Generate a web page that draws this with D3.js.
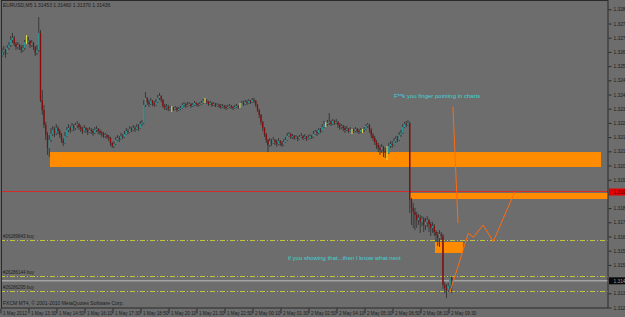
<!DOCTYPE html>
<html><head><meta charset="utf-8">
<script src="https://cdn.jsdelivr.net/npm/d3@7"></script>
<style>html,body{margin:0;padding:0;background:#6d6d6d;overflow:hidden}svg{display:block}</style>
</head><body><svg id="c" width="625" height="317"></svg>
<script>
const symbol = "EURUSD,M5";
const firstOpen = 1.32629;
const closes = [
1.32645,1.32655,1.32639,1.32666,1.32681,1.32708,1.32719,1.32687,1.32671,1.32681,
1.32671,1.32655,1.32666,1.32697,1.32697,1.32703,1.32681,1.32692,1.32671,1.32639,
1.32655,1.32745,1.32391,1.32338,1.32259,1.32206,1.32138,1.32180,1.32211,1.32233,
1.32217,1.32243,1.32227,1.32206,1.32180,1.32164,1.32201,1.32233,1.32243,1.32233,
1.32254,1.32243,1.32259,1.32264,1.32248,1.32238,1.32227,1.32243,1.32233,1.32222,
1.32233,1.32227,1.32217,1.32233,1.32238,1.32227,1.32217,1.32211,1.32201,1.32206,
1.32196,1.32190,1.32164,1.32148,1.32159,1.32180,1.32190,1.32185,1.32201,1.32196,
1.32211,1.32227,1.32222,1.32238,1.32233,1.32243,1.32238,1.32248,1.32243,1.32264,
1.32270,1.32365,1.32402,1.32380,1.32370,1.32386,1.32375,1.32365,1.32380,1.32402,
1.32412,1.32391,1.32359,1.32349,1.32354,1.32344,1.32349,1.32349,1.32344,1.32349,
1.32338,1.32344,1.32349,1.32365,1.32370,1.32359,1.32365,1.32370,1.32359,1.32365,
1.32375,1.32370,1.32365,1.32370,1.32375,1.32386,1.32386,1.32380,1.32370,1.32375,
1.32365,1.32370,1.32359,1.32365,1.32359,1.32354,1.32359,1.32354,1.32349,1.32354,
1.32359,1.32354,1.32349,1.32354,1.32359,1.32354,1.32354,1.32375,1.32370,1.32380,
1.32375,1.32386,1.32380,1.32391,1.32386,1.32365,1.32338,1.32312,1.32275,1.32243,
1.32211,1.32180,1.32153,1.32174,1.32164,1.32180,1.32169,1.32159,1.32174,1.32164,
1.32153,1.32169,1.32180,1.32201,1.32211,1.32196,1.32201,1.32190,1.32196,1.32185,
1.32196,1.32201,1.32190,1.32196,1.32185,1.32190,1.32201,1.32196,1.32211,1.32222,
1.32217,1.32233,1.32227,1.32248,1.32264,1.32264,1.32270,1.32275,1.32264,1.32280,
1.32270,1.32275,1.32259,1.32248,1.32254,1.32243,1.32233,1.32238,1.32227,1.32233,
1.32233,1.32227,1.32238,1.32227,1.32222,1.32233,1.32233,1.32238,1.32254,1.32259,
1.32233,1.32206,1.32190,1.32169,1.32153,1.32138,1.32127,1.32143,1.32122,1.32111,
1.32111,1.32148,1.32159,1.32153,1.32174,1.32185,1.32180,1.32206,1.32217,1.32248,
1.32264,1.32259,1.32270,1.31863,1.31821,1.31800,1.31784,1.31757,1.31768,1.31747,
1.31763,1.31731,1.31747,1.31757,1.31736,1.31715,1.31725,1.31694,1.31678,1.31662,
1.31683,1.31673,1.31414,1.31398,1.31388,1.31409,1.31453,1.31436];
const highs = [
1.32666,1.32676,1.32660,1.32681,1.32697,1.32729,1.32745,1.32729,1.32697,1.32697,
1.32687,1.32681,1.32681,1.32708,1.32734,1.32724,1.32708,1.32708,1.32697,1.32676,
1.32681,1.32829,1.32761,1.32444,1.32365,1.32275,1.32222,1.32206,1.32243,1.32254,
1.32248,1.32264,1.32254,1.32238,1.32217,1.32190,1.32222,1.32248,1.32264,1.32254,
1.32270,1.32264,1.32270,1.32280,1.32270,1.32259,1.32248,1.32259,1.32248,1.32243,
1.32248,1.32243,1.32238,1.32248,1.32254,1.32243,1.32238,1.32227,1.32222,1.32217,
1.32211,1.32206,1.32196,1.32169,1.32174,1.32196,1.32206,1.32201,1.32217,1.32211,
1.32227,1.32243,1.32238,1.32254,1.32248,1.32259,1.32254,1.32264,1.32264,1.32280,
1.32285,1.32391,1.32433,1.32407,1.32391,1.32402,1.32391,1.32386,1.32396,1.32417,
1.32428,1.32417,1.32396,1.32370,1.32370,1.32365,1.32359,1.32359,1.32354,1.32359,
1.32354,1.32354,1.32359,1.32375,1.32380,1.32375,1.32380,1.32380,1.32375,1.32375,
1.32386,1.32380,1.32375,1.32380,1.32386,1.32396,1.32402,1.32396,1.32386,1.32386,
1.32380,1.32380,1.32375,1.32375,1.32370,1.32370,1.32370,1.32365,1.32365,1.32365,
1.32370,1.32365,1.32359,1.32365,1.32370,1.32365,1.32375,1.32386,1.32386,1.32391,
1.32391,1.32396,1.32391,1.32402,1.32402,1.32391,1.32370,1.32344,1.32317,1.32280,
1.32248,1.32217,1.32185,1.32190,1.32185,1.32196,1.32185,1.32180,1.32190,1.32180,
1.32174,1.32185,1.32196,1.32217,1.32222,1.32217,1.32211,1.32206,1.32206,1.32201,
1.32206,1.32217,1.32206,1.32211,1.32201,1.32206,1.32211,1.32206,1.32227,1.32233,
1.32233,1.32243,1.32243,1.32264,1.32280,1.32275,1.32285,1.32322,1.32285,1.32291,
1.32285,1.32291,1.32280,1.32270,1.32264,1.32259,1.32254,1.32254,1.32243,1.32248,
1.32238,1.32243,1.32248,1.32243,1.32238,1.32243,1.32238,1.32248,1.32264,1.32270,
1.32264,1.32243,1.32217,1.32201,1.32180,1.32164,1.32153,1.32159,1.32148,1.32138,
1.32148,1.32164,1.32174,1.32174,1.32190,1.32201,1.32201,1.32222,1.32233,1.32264,
1.32275,1.32280,1.32285,1.32275,1.31873,1.31847,1.31821,1.31800,1.31789,1.31784,
1.31778,1.31773,1.31768,1.31778,1.31763,1.31747,1.31747,1.31736,1.31704,1.31694,
1.31704,1.31694,1.31683,1.31430,1.31419,1.31425,1.31456,1.31460];
const lows = [
1.32618,1.32629,1.32613,1.32634,1.32655,1.32671,1.32692,1.32676,1.32655,1.32660,
1.32655,1.32639,1.32645,1.32655,1.32687,1.32687,1.32666,1.32671,1.32655,1.32623,
1.32629,1.32645,1.32380,1.32312,1.32243,1.32180,1.32101,1.32090,1.32169,1.32201,
1.32196,1.32206,1.32211,1.32190,1.32164,1.32148,1.32159,1.32196,1.32222,1.32217,
1.32227,1.32227,1.32233,1.32243,1.32233,1.32222,1.32211,1.32222,1.32217,1.32206,
1.32217,1.32211,1.32201,1.32211,1.32222,1.32211,1.32206,1.32196,1.32190,1.32190,
1.32185,1.32174,1.32148,1.32138,1.32138,1.32153,1.32174,1.32169,1.32180,1.32185,
1.32190,1.32206,1.32211,1.32217,1.32222,1.32227,1.32222,1.32233,1.32227,1.32238,
1.32254,1.32264,1.32354,1.32365,1.32354,1.32365,1.32359,1.32354,1.32359,1.32375,
1.32391,1.32380,1.32349,1.32338,1.32338,1.32333,1.32333,1.32328,1.32333,1.32338,
1.32328,1.32333,1.32338,1.32344,1.32354,1.32349,1.32354,1.32359,1.32349,1.32354,
1.32359,1.32359,1.32354,1.32359,1.32365,1.32370,1.32375,1.32370,1.32359,1.32365,
1.32354,1.32359,1.32354,1.32354,1.32349,1.32344,1.32349,1.32344,1.32338,1.32344,
1.32349,1.32344,1.32338,1.32344,1.32349,1.32344,1.32349,1.32359,1.32359,1.32365,
1.32365,1.32370,1.32370,1.32375,1.32375,1.32354,1.32328,1.32296,1.32259,1.32227,
1.32196,1.32164,1.32116,1.32143,1.32148,1.32159,1.32153,1.32143,1.32153,1.32148,
1.32143,1.32148,1.32164,1.32174,1.32196,1.32185,1.32185,1.32180,1.32185,1.32174,
1.32180,1.32190,1.32180,1.32185,1.32174,1.32180,1.32185,1.32185,1.32190,1.32206,
1.32201,1.32211,1.32217,1.32222,1.32243,1.32248,1.32254,1.32259,1.32254,1.32259,
1.32259,1.32264,1.32243,1.32233,1.32238,1.32227,1.32217,1.32227,1.32217,1.32222,
1.32211,1.32217,1.32222,1.32217,1.32211,1.32217,1.32217,1.32222,1.32233,1.32243,
1.32217,1.32190,1.32174,1.32153,1.32132,1.32116,1.32101,1.32111,1.32090,1.32085,
1.32074,1.32106,1.32138,1.32138,1.32148,1.32164,1.32169,1.32174,1.32196,1.32211,
1.32243,1.32248,1.32254,1.31794,1.31731,1.31715,1.31704,1.31715,1.31731,1.31689,
1.31725,1.31694,1.31704,1.31720,1.31694,1.31673,1.31689,1.31673,1.31641,1.31620,
1.31615,1.31652,1.31393,1.31370,1.31345,1.31377,1.31388,1.31370];

const priceTicks = [1.32870,1.32795,1.32720,1.32645,1.32570,1.32495,1.32420,1.32345,1.32270,1.32195,1.32120,
  1.32045,1.31970,1.31895,1.31820,1.31745,1.31670,1.31595,1.31520,1.31445,1.31370,1.31295];
const timeTickBars = [0,16,32,48,64,80,96,112,128,144,160,176,192,208,224,240,256];
const timeTickLabels = ["1 May 2012","1 May 13:30","1 May 14:50","1 May 16:10","1 May 17:30","1 May 18:50",
  "1 May 20:10","1 May 21:30","1 May 22:50","2 May 00:10","2 May 01:30","2 May 02:50","2 May 04:10",
  "2 May 05:30","2 May 06:50","2 May 08:10","2 May 09:30"];
const lastBar = 346.3;
const zoneFrom = [27.4, 232.6, 247.4];
const zoneTo = [342.3, 346.3, 263.4];
const zoneTop = [1.32116, 1.31900, 1.31641];
const zoneBottom = [1.32037, 1.31868, 1.31583];
const orderLevels = [1.31652, 1.31461, 1.31382];
const orderLabels = ["#26289843 buy", "#26286144 buy", "#26286295 buy"];
const bidPrice = 1.31436;
const alertLevel = 1.31905;
const arrowA = [[257.7,1.32354],[260.6,1.31741]];
const arrowB = [[256,1.31377],[266.5,1.31687],[269.3,1.31666],[275.0,1.31731],[280.7,1.31643],[293.1,1.31907]];
const noteBars = [224, 163.4];
const notePrices = [1.32402, 1.31546];
const noteTexts = ["F**k you finger pointing in charts", "if you showing that...then I know what next"];
const copyright = "FXCM MT4, \u00a9 2001-2010 MetaQuotes Software Corp.";

const W = 625, H = 317, PR = 608, PB = 308;
const BG = "#6d6d6d", FG = "#1c1c1c";
const FONT = "Liberation Sans, Arial, sans-serif";
const svg = d3.select("#c");
svg.append("rect").attr("width", W).attr("height", H).attr("fill", BG);

const bars = closes.map((c, i) => ({i, open: i ? closes[i-1] : firstOpen, high: highs[i], low: lows[i], close: c}));
const x = d3.scaleLinear().domain([-8/7, lastBar]).range([0, PR]);
const y = d3.scaleLinear().domain([priceTicks[priceTicks.length-1], priceTicks[0]]).range([307.5, 9.3]);

svg.append("clipPath").attr("id", "clip").append("rect").attr("x", 1).attr("y", 0).attr("width", PR - 1).attr("height", PB);
const g = svg.append("g").attr("clip-path", "url(#clip)");

// zones
g.selectAll("rect.zone").data(zoneFrom).join("rect").attr("class", "zone")
  .attr("x", (d, k) => x(d)).attr("width", (d, k) => x(zoneTo[k]) - x(d))
  .attr("y", (d, k) => y(zoneTop[k])).attr("height", (d, k) => y(zoneBottom[k]) - y(zoneTop[k]))
  .attr("fill", "#ff8c00");

// order lines
g.selectAll("line.ord").data(orderLevels).join("line")
  .attr("x1", 0).attr("x2", PR).attr("y1", d => Math.round(y(d)) + 0.5).attr("y2", d => Math.round(y(d)) + 0.5)
  .attr("stroke", "#c4c43a").attr("stroke-width", 1).attr("stroke-dasharray", "5,2,1,2");
g.selectAll("text.ord").data(orderLabels).join("text")
  .attr("x", 3).attr("y", (d, k) => y(orderLevels[k]) - 2).text(d => d)
  .attr("font-family", FONT).attr("font-size", 4.5).attr("fill", FG);

// bid line
g.append("line").attr("x1", 0).attr("x2", PR).attr("y1", y(bidPrice)).attr("y2", y(bidPrice))
  .attr("stroke", "#a4a4a4").attr("stroke-width", 1.6);
// alert line
g.append("line").attr("x1", 0).attr("x2", PR).attr("y1", Math.round(y(alertLevel)) - 0.5).attr("y2", Math.round(y(alertLevel)) - 0.5)
  .attr("stroke", "#d42a2a").attr("stroke-width", 1);

// candles
const cg = g.append("g");
const bw = 1.3;
cg.selectAll("line.w").data(bars).join("line")
  .attr("x1", d => x(d.i)).attr("x2", d => x(d.i))
  .attr("y1", d => y(d.high)).attr("y2", d => y(d.low))
  .attr("stroke", d => d.open === d.close ? "#d8d84a" : "#3a3a3a").attr("stroke-width", 1);
cg.selectAll("rect.b").data(bars.filter(d => d.open !== d.close)).join("rect")
  .attr("x", d => x(d.i) - bw / 2).attr("width", bw)
  .attr("y", d => y(Math.max(d.open, d.close)))
  .attr("height", d => Math.max(1, Math.abs(y(d.open) - y(d.close))))
  .attr("fill", d => d.close > d.open ? "#2e9c9c" : "#8e0a0a");

// drawn arrows
const ln = d3.line().x(d => x(d[0])).y(d => y(d[1]));
[arrowA, arrowB].forEach(a => g.append("path").attr("d", ln(a)).attr("fill", "none")
  .attr("stroke", "#ff6a10").attr("stroke-width", 1));

// notes
g.selectAll("text.note").data(noteTexts).join("text")
  .attr("x", (d, k) => x(noteBars[k])).attr("y", (d, k) => y(notePrices[k])).text(d => d)
  .attr("font-family", FONT).attr("font-size", 6).attr("fill", "#3cd6d6");

// title & copyright
const last = bars[bars.length - 1];
svg.append("text").attr("x", 3).attr("y", 6.5)
  .text(symbol + "  " + [last.open, last.high, last.low, last.close].map(d3.format(".5f")).join(" "))
  .attr("font-family", FONT).attr("font-size", 5).attr("fill", FG);
svg.append("text").attr("x", 3).attr("y", 305).text(copyright)
  .attr("font-family", FONT).attr("font-size", 5).attr("fill", FG);

// frame
svg.append("rect").attr("x", 1.5).attr("y", 0.5).attr("width", PR - 1.5).attr("height", PB - 0.5)
  .attr("fill", "none").attr("stroke", "#2a2a2a").attr("stroke-width", 1);

// axes
const yAxis = d3.axisRight(y).tickValues(priceTicks).tickFormat(d3.format(".5f")).tickSize(3).tickPadding(2);
const ya = svg.append("g").attr("transform", `translate(${PR + 0.5},0)`).call(yAxis);
const xAxis = d3.axisBottom(x).tickValues(timeTickBars).tickFormat((d, k) => timeTickLabels[k]).tickSize(5).tickPadding(0);
const xa = svg.append("g").attr("transform", `translate(0,${PB + 0.5})`).call(xAxis);
[ya, xa].forEach(a => {
  a.select(".domain").remove();
  a.selectAll("line").attr("stroke", "#2a2a2a");
  a.selectAll("text").attr("fill", FG).attr("font-family", FONT).attr("font-size", 5);
});
// tick labels hidden behind the price markers
ya.selectAll(".tick text").filter(d => Math.abs(y(d) - y(alertLevel)) < 5 || Math.abs(y(d) - y(bidPrice)) < 5).remove();
ya.selectAll(".tick text").attr("font-size", 4.8);
xa.selectAll(".tick line").attr("transform", "translate(-1.5,0)");
xa.selectAll(".tick text").attr("text-anchor", "start").attr("dx", 0.5).attr("dy", 0).attr("y", 6.5).attr("font-size", 4.6);

// price labels
function priceLabel(p, bg, fg) {
  const gy = svg.append("g").attr("transform", `translate(${PR + 1},${y(p)})`);
  gy.append("rect").attr("x", 0).attr("y", -3.5).attr("width", 20).attr("height", 7).attr("fill", bg);
  gy.append("text").attr("x", 4.5).attr("y", 1.8).text(d3.format(".5f")(p))
    .attr("font-family", FONT).attr("font-size", 4.8).attr("fill", fg);
}
priceLabel(alertLevel, "#e80000", "#3a0000");
priceLabel(bidPrice, "#0a0a0a", "#9a9a9a");
</script></body></html>
